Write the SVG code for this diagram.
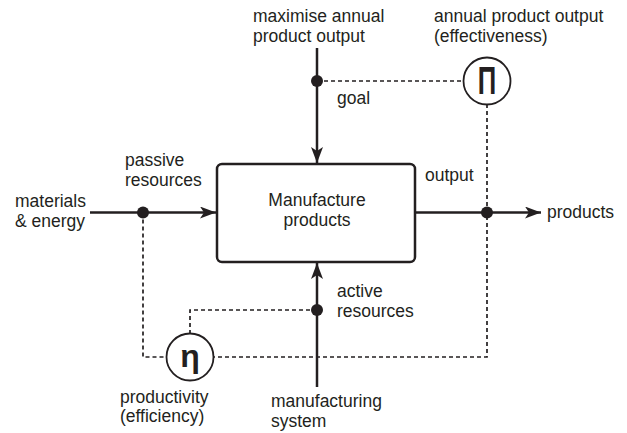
<svg xmlns="http://www.w3.org/2000/svg" width="627" height="433" viewBox="0 0 627 433">
<defs>
<style>
text{font-family:"Liberation Sans",Arial,Helvetica,sans-serif;font-size:17.5px;fill:#231f20}
.ln{stroke:#231f20;stroke-width:2.5;fill:none}
.ds{stroke:#231f20;stroke-width:1.7;fill:none;stroke-dasharray:4 3}
.dot{fill:#231f20}
.c{fill:#fff;stroke:#231f20;stroke-width:1.8}
.sym{font-size:32px;font-weight:bold;text-anchor:middle}
</style>
<marker id="ah" viewBox="0 0 16 12" refX="16" refY="6" markerWidth="16" markerHeight="12" markerUnits="userSpaceOnUse" orient="auto">
<path d="M0,0 L16,6 L0,12 L4,6 Z" fill="#231f20"/>
</marker>
</defs>
<rect width="627" height="433" fill="#fff"/>
<g id="connectors">
<line class="ln" x1="317" y1="48" x2="317" y2="163" marker-end="url(#ah)"/>
<line class="ln" x1="90" y1="212.5" x2="216" y2="212.5" marker-end="url(#ah)"/>
<line class="ln" x1="416" y1="212.5" x2="541" y2="212.5" marker-end="url(#ah)"/>
<line class="ln" x1="317" y1="387" x2="317" y2="263" marker-end="url(#ah)"/>
<polyline class="ds" points="317,81 464,81"/>
<polyline class="ds" points="487,104 487,357 213,357"/>
<polyline class="ds" points="143,212.5 143,357 167,357"/>
<polyline class="ds" points="190,334 190,310 317,310"/>
<circle class="dot" cx="317" cy="81" r="6"/>
<circle class="dot" cx="143" cy="212.5" r="6"/>
<circle class="dot" cx="487" cy="212.5" r="6"/>
<circle class="dot" cx="317" cy="310" r="6"/>
</g>
<g id="process">
<rect x="217" y="164" width="198" height="98" rx="5" fill="#fff" stroke="#231f20" stroke-width="2.5"/>
<text x="317" y="206" text-anchor="middle">Manufacture</text>
<text x="317" y="226" text-anchor="middle">products</text>
</g>
<g id="effectiveness">
<circle class="c" cx="487" cy="81" r="23.5"/>
<text class="sym" transform="translate(487 94) scale(0.8 1.2)" x="0" y="0">Π</text>
</g>
<g id="efficiency">
<circle class="c" cx="190" cy="357" r="23.5"/>
<text class="sym" x="190" y="367">η</text>
</g>
<g id="labels">
<text x="253" y="22">maximise annual</text>
<text x="253" y="42">product output</text>
<text x="434" y="22">annual product output</text>
<text x="434" y="42">(effectiveness)</text>
<text x="337" y="104">goal</text>
<text x="125" y="166">passive</text>
<text x="125" y="186">resources</text>
<text x="15" y="207">materials</text>
<text x="15" y="227">&amp; energy</text>
<text x="425" y="181">output</text>
<text x="547" y="218">products</text>
<text x="337" y="297">active</text>
<text x="337" y="317">resources</text>
<text x="120" y="403">productivity</text>
<text x="120" y="422">(efficiency)</text>
<text x="271" y="407">manufacturing</text>
<text x="271" y="427">system</text>
</g>
</svg>
